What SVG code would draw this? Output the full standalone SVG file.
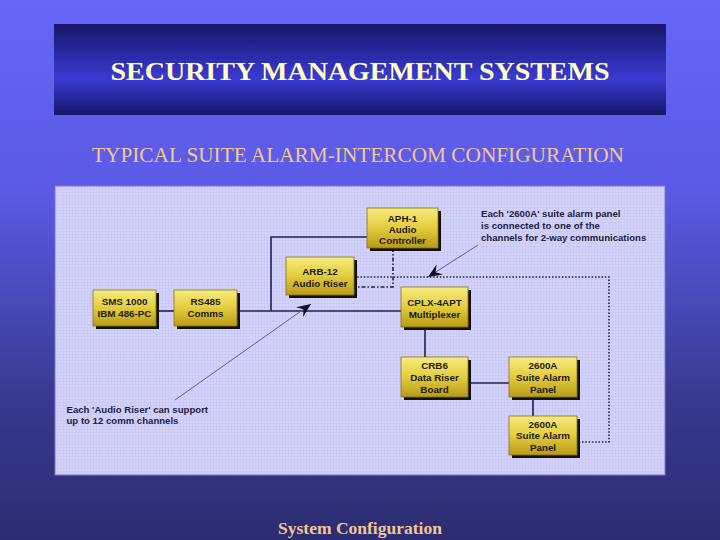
<svg xmlns="http://www.w3.org/2000/svg" width="720" height="540" viewBox="0 0 720 540">
  <defs>
    <linearGradient id="bg" x1="0" y1="0" x2="0" y2="1">
      <stop offset="0" stop-color="#6666f6"/>
      <stop offset="0.35" stop-color="#5a5ae6"/>
      <stop offset="0.75" stop-color="#38388e"/>
      <stop offset="1" stop-color="#2c2c72"/>
    </linearGradient>
    <linearGradient id="titleg" x1="0" y1="0" x2="0" y2="1">
      <stop offset="0" stop-color="#16166a"/>
      <stop offset="0.6" stop-color="#3a3ad2"/>
      <stop offset="1" stop-color="#16166a"/>
    </linearGradient>
    <linearGradient id="gold" x1="0" y1="0" x2="0" y2="1">
      <stop offset="0" stop-color="#f6ec80"/>
      <stop offset="0.5" stop-color="#e4cc3c"/>
      <stop offset="1" stop-color="#b89a1a"/>
    </linearGradient>
    <pattern id="grid" width="3" height="3" patternUnits="userSpaceOnUse">
      <rect width="3" height="3" fill="#d2d2fb"/>
      <path d="M0 0.5H3M0.5 0V3" stroke="#c6c6f2" stroke-width="0.6"/>
    </pattern>
    <marker id="barb" viewBox="-14 -7 16 14" markerWidth="16" markerHeight="14" refX="0" refY="0" orient="auto" markerUnits="userSpaceOnUse">
      <path d="M0,0 L-14,-6 L-9,0 L-14,6 Z" fill="#111122"/>
    </marker>
  </defs>
  <style>
    .node rect.box { fill: url(#gold); stroke: #8a7012; stroke-width: 0.8; }
    .node rect.sh { fill: #111111; }
    .node text { font-family: "Liberation Sans", Arial, sans-serif; font-weight: bold; font-size: 9.8px; fill: #1c1c1c; text-anchor: middle; }
    .solid { stroke: #1e1e52; stroke-width: 1.6; fill: none; }
    .dot { stroke: #1e1e52; stroke-width: 1.6; fill: none; stroke-dasharray: 1.5 1.8; }
    .dashdot { stroke: #1e1e52; stroke-width: 1.6; fill: none; stroke-dasharray: 4 2 1.5 2; }
    .pointer { stroke: #5c5cae; stroke-width: 1; fill: none; }
    .note { font-family: "Liberation Sans", Arial, sans-serif; font-weight: bold; font-size: 9.6px; fill: #222240; }
  </style>

  <rect width="720" height="540" fill="url(#bg)"/>

  <g id="title">
    <rect x="54" y="24" width="612" height="91" fill="url(#titleg)"/>
    <text x="360" y="80" text-anchor="middle" font-family="Liberation Serif, 'Times New Roman', serif" font-weight="bold" font-size="26" textLength="499" lengthAdjust="spacingAndGlyphs" fill="#ffffc4">SECURITY MANAGEMENT SYSTEMS</text>
  </g>

  <text id="subtitle" x="358" y="162" text-anchor="middle" font-family="Liberation Serif, 'Times New Roman', serif" font-size="21" textLength="532" lengthAdjust="spacingAndGlyphs" fill="#f2c890">TYPICAL SUITE ALARM-INTERCOM CONFIGURATION</text>

  <rect id="panel" x="55" y="186" width="610" height="289" fill="url(#grid)" stroke="#7a7ac4" stroke-width="1"/>

  <g id="connectors">
    <path class="solid" d="M156 311H174"/>
    <path class="solid" d="M238 311H401"/>
    <path class="solid" d="M271 311V237H367"/>
    <path class="solid" d="M425 327V357"/>
    <path class="solid" d="M468 383H509"/>
    <path class="solid" d="M533 397V416"/>
    <path class="dashdot" d="M393 248V287H354"/>
    <path class="dot" d="M354 277H609V442H577"/>
    <path class="pointer" d="M175 400L311 304" marker-end="url(#barb)"/>
    <path class="pointer" d="M478 245L428 277" marker-end="url(#barb)"/>
  </g>

  <g id="sms" class="node">
    <rect class="sh" x="96" y="293" width="63" height="36"/>
    <rect class="box" x="93" y="290" width="63" height="36"/>
    <text x="124.5" y="305">SMS 1000</text>
    <text x="124.5" y="316.5">IBM 486-PC</text>
  </g>
  <g id="rs485" class="node">
    <rect class="sh" x="177" y="293" width="63" height="36"/>
    <rect class="box" x="174" y="290" width="63" height="36"/>
    <text x="205.5" y="305">RS485</text>
    <text x="205.5" y="316.5">Comms</text>
  </g>
  <g id="arb12" class="node">
    <rect class="sh" x="289" y="260" width="68" height="38"/>
    <rect class="box" x="286" y="257" width="68" height="38"/>
    <text x="320" y="275">ARB-12</text>
    <text x="320" y="287">Audio Riser</text>
  </g>
  <g id="aph1" class="node">
    <rect class="sh" x="370" y="211" width="71" height="40"/>
    <rect class="box" x="367" y="208" width="71" height="40"/>
    <text x="402.5" y="221.5">APH-1</text>
    <text x="402.5" y="232.5">Audio</text>
    <text x="402.5" y="243.5">Controller</text>
  </g>
  <g id="cplx" class="node">
    <rect class="sh" x="404" y="290" width="67" height="40"/>
    <rect class="box" x="401" y="287" width="67" height="40"/>
    <text x="434.5" y="305.5">CPLX-4APT</text>
    <text x="434.5" y="317.5">Multiplexer</text>
  </g>
  <g id="crb6" class="node">
    <rect class="sh" x="404" y="360" width="67" height="40"/>
    <rect class="box" x="401" y="357" width="67" height="40"/>
    <text x="434.5" y="368.5">CRB6</text>
    <text x="434.5" y="380.5">Data Riser</text>
    <text x="434.5" y="392.5">Board</text>
  </g>
  <g id="panel1" class="node">
    <rect class="sh" x="512" y="360" width="68" height="40"/>
    <rect class="box" x="509" y="357" width="68" height="40"/>
    <text x="543" y="368.5">2600A</text>
    <text x="543" y="380.5">Suite Alarm</text>
    <text x="543" y="392.5">Panel</text>
  </g>
  <g id="panel2" class="node">
    <rect class="sh" x="512" y="419" width="68" height="39"/>
    <rect class="box" x="509" y="416" width="68" height="39"/>
    <text x="543" y="427.5">2600A</text>
    <text x="543" y="439">Suite Alarm</text>
    <text x="543" y="450.5">Panel</text>
  </g>

  <g id="notes">
    <text class="note" x="481" y="216.5">Each '2600A' suite alarm panel</text>
    <text class="note" x="481" y="228.5">is connected to one of the</text>
    <text class="note" x="481" y="240.5">channels for 2-way communications</text>
    <text class="note" x="66.5" y="412.5">Each 'Audio Riser' can support</text>
    <text class="note" x="66.5" y="424">up to 12 comm channels</text>
  </g>

  <text id="footer" x="360" y="534" text-anchor="middle" font-family="Liberation Serif, 'Times New Roman', serif" font-weight="bold" font-size="17.5" fill="#f2c890">System Configuration</text>
</svg>
